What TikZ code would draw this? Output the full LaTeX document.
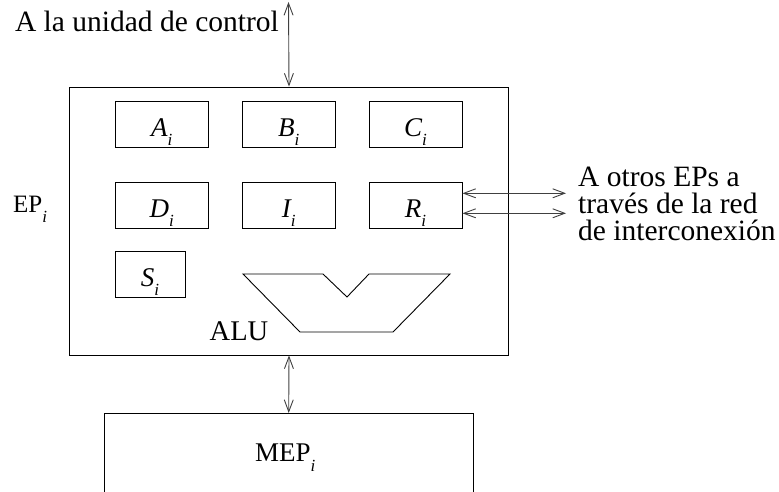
\documentclass[tikz,border=0pt]{standalone}
\usepackage{fontspec}
\setmainfont{Liberation Serif}
\usetikzlibrary{arrows.meta}
\newcommand\sbi[1][9pt]{\raisebox{-#1}{\fontsize{17}{17}\selectfont\itshape i}}
\begin{document}
\begin{tikzpicture}[x=1pt,y=-1pt,
  lw/.style={line width=0.9pt},
  reg/.style={draw,lw,minimum width=93pt,minimum height=46pt,inner sep=0pt,
    text height=24pt,text depth=0pt,font=\fontsize{27}{27}\selectfont\itshape},
  big/.style={font=\fontsize{29.5}{27}\selectfont,inner sep=0pt},
  mid/.style={font=\fontsize{25}{25}\selectfont,inner sep=0pt},
  dbl/.style={lw,draw=black!75,{Straight Barb[length=12pt,width=9pt]}-{Straight Barb[length=12pt,width=9pt]}}]
\clip (0,0) rectangle (779,492);
% main EP box
\node[draw,lw,minimum width=439pt,minimum height=268pt,inner sep=0pt] (ep) at (289,221) {};
% registers
\node[reg] (A) at (161.7,124.7) {A\sbi};
\node[reg] (B) at (288.8,124.7) {B\sbi};
\node[reg] (C) at (415.5,124.7) {C\sbi};
\node[reg] (D) at (161.7,205.7) {D\sbi};
\node[reg] (I) at (288.8,205.7) {I\sbi};
\node[reg] (R) at (415.5,205.7) {R\sbi};
\node[reg,minimum width=70pt] (S) at (150,274.7) {S\sbi};
% ALU
\draw[lw,line join=miter] (243,274) -- (323,274) -- (347,297) -- (369,274) -- (450,274) -- (393,332) -- (300,332) -- cycle;
\node[big,anchor=base,font=\fontsize{28.5}{28}\selectfont] (alu) at (239,340.7) {ALU};
% labels
\node[big,anchor=base east] (uc) at (279,31.7) {A la unidad de control};
\coordinate (uctop) at (288.5,2);
\node[mid,anchor=base west] (epl) at (13,212) {EP\sbi[10pt]};
\node[big,anchor=base west] (ot1) at (578,186) {A otros EPs a};
\node[big,anchor=base west] (ot2) at (578,213) {trav\'es de la red};
\node[big,anchor=base west] (ot3) at (578,240) {de interconexi\'on};
\coordinate (o1) at (566,193.3);
\coordinate (o2) at (566,213.3);
% MEP box
\node[draw,lw,minimum width=369pt,minimum height=120pt,inner sep=0pt,anchor=north] (mep) at (288.7,413) {};
\node[mid,anchor=base west,font=\fontsize{27}{27}\selectfont] (mepl) at (255,461) {MEP\sbi[10pt]};
% connectors
\draw[dbl] (uctop) -- (ep.north);
\draw[dbl] (ep.south) -- (mep.north);
\draw[dbl] (R.east |- o1) -- (o1);
\draw[dbl] (R.east |- o2) -- (o2);
\end{tikzpicture}
\end{document}
